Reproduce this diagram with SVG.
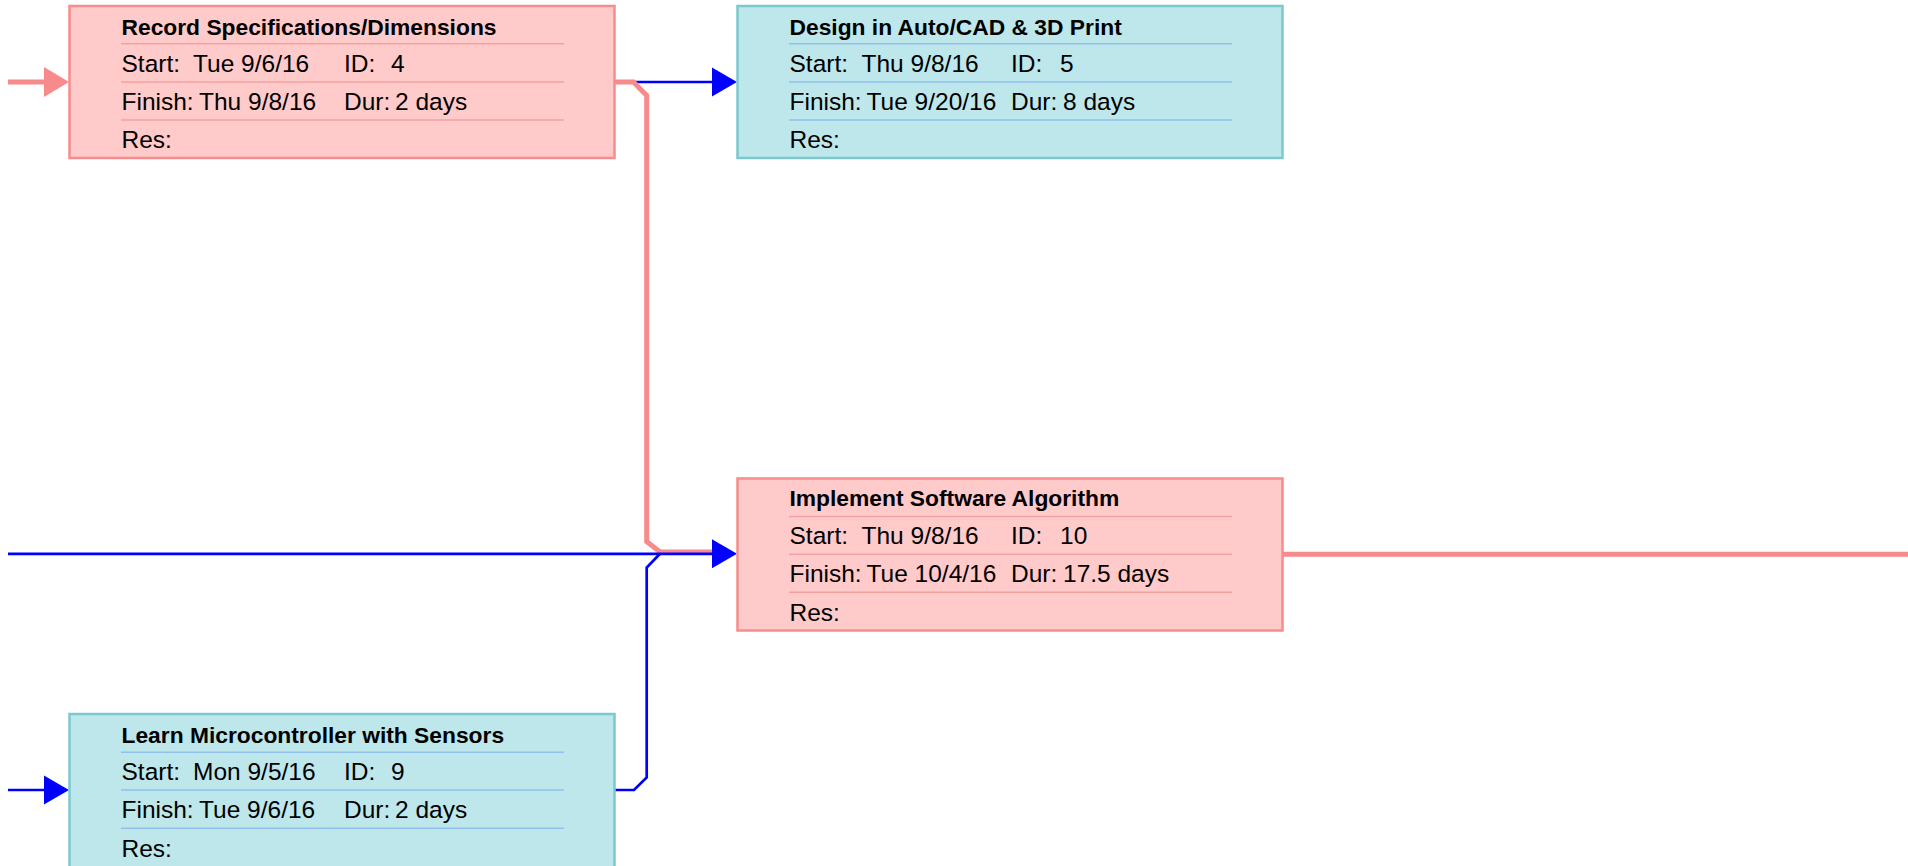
<svg xmlns="http://www.w3.org/2000/svg" width="1908" height="866" viewBox="0 0 1908 866">
<style>
.box-pink{fill:#FFCACA;stroke:#F78C8C;stroke-width:2.5}
.box-cyan{fill:#BDE7EB;stroke:#7CC8CE;stroke-width:2.5}
.sep-pink{stroke:#F5A0A0;stroke-width:1.5}
.sep-cyan{stroke:#92C0EE;stroke-width:1.5}
.title{font-family:"Liberation Sans",Arial,sans-serif;font-weight:bold;font-size:22.8px;fill:#000}
.row{font-family:"Liberation Sans",Arial,sans-serif;font-size:24.5px;fill:#000}
.c-pink{fill:none;stroke:#F78A8A;stroke-width:5}
.c-blue{fill:none;stroke:#0000FF;stroke-width:2.7}
</style>
<defs>
<marker id="ahPink" markerUnits="userSpaceOnUse" markerWidth="26" markerHeight="30" refX="0" refY="15" orient="auto" overflow="visible">
<path d="M0,0 L25,15 L0,30 Z" fill="#F78A8A"/>
</marker>
<marker id="ahBlue" markerUnits="userSpaceOnUse" markerWidth="26" markerHeight="30" refX="0" refY="14.5" orient="auto" overflow="visible">
<path d="M0,0 L25,14.5 L0,29 Z" fill="#0000FF"/>
</marker>
</defs>

<g id="connectors">
<path class="c-pink" d="M8,82 H44" marker-end="url(#ahPink)"/>
<path class="c-blue" d="M8,790 H44" marker-end="url(#ahBlue)"/>
<path class="c-blue" d="M615,82 H712" marker-end="url(#ahBlue)"/>
<path class="c-pink" d="M615,82 H633.5 L646.7,95.5 V541.5 L660,552 H712"/>
<path class="c-blue" d="M8,553.8 H712" marker-end="url(#ahBlue)"/>
<path class="c-blue" d="M615,790 H634 L646.7,777.5 V567.5 L660,553.8"/>
<path class="c-pink" d="M1283,554.3 H1908"/>
</g>

<g id="node4">
<rect class="box-pink" x="69.5" y="6" width="545" height="152"/>
<line class="sep-pink" x1="121" y1="43.7" x2="564" y2="43.7"/>
<line class="sep-pink" x1="121" y1="82" x2="564" y2="82"/>
<line class="sep-pink" x1="121" y1="120" x2="564" y2="120"/>
<text class="title" x="121.5" y="34.7">Record Specifications/Dimensions</text>
<text class="row" y="72"><tspan x="121.5">Start:</tspan> <tspan x="193">Tue 9/6/16</tspan> <tspan x="344">ID:</tspan> <tspan x="391">4</tspan></text>
<text class="row" y="109.5"><tspan x="121.5">Finish:</tspan> <tspan x="199">Thu 9/8/16</tspan> <tspan x="344">Dur:</tspan> <tspan x="395">2 days</tspan></text>
<text class="row" x="121.5" y="148.3">Res:</text>
</g>

<g id="node5">
<rect class="box-cyan" x="737.5" y="6" width="545" height="152"/>
<line class="sep-cyan" x1="789" y1="43.7" x2="1232" y2="43.7"/>
<line class="sep-cyan" x1="789" y1="82" x2="1232" y2="82"/>
<line class="sep-cyan" x1="789" y1="120" x2="1232" y2="120"/>
<text class="title" x="789.5" y="34.7">Design in Auto/CAD &amp; 3D Print</text>
<text class="row" y="72"><tspan x="789.5">Start:</tspan> <tspan x="861.5">Thu 9/8/16</tspan> <tspan x="1011">ID:</tspan> <tspan x="1060">5</tspan></text>
<text class="row" y="109.5"><tspan x="789.5">Finish:</tspan> <tspan x="866.5">Tue 9/20/16</tspan> <tspan x="1011">Dur:</tspan> <tspan x="1063">8 days</tspan></text>
<text class="row" x="789.5" y="148.3">Res:</text>
</g>

<g id="node10">
<rect class="box-pink" x="737.5" y="478.5" width="545" height="152"/>
<line class="sep-pink" x1="789" y1="516.5" x2="1232" y2="516.5"/>
<line class="sep-pink" x1="789" y1="554.3" x2="1232" y2="554.3"/>
<line class="sep-pink" x1="789" y1="592.3" x2="1232" y2="592.3"/>
<text class="title" x="789.5" y="505.5">Implement Software Algorithm</text>
<text class="row" y="544.3"><tspan x="789.5">Start:</tspan> <tspan x="861.5">Thu 9/8/16</tspan> <tspan x="1011">ID:</tspan> <tspan x="1060">10</tspan></text>
<text class="row" y="581.8"><tspan x="789.5">Finish:</tspan> <tspan x="866.5">Tue 10/4/16</tspan> <tspan x="1011">Dur:</tspan> <tspan x="1063">17.5 days</tspan></text>
<text class="row" x="789.5" y="620.5">Res:</text>
</g>

<g id="node9">
<rect class="box-cyan" x="69.5" y="714" width="545" height="154"/>
<line class="sep-cyan" x1="121" y1="752.3" x2="564" y2="752.3"/>
<line class="sep-cyan" x1="121" y1="790" x2="564" y2="790"/>
<line class="sep-cyan" x1="121" y1="828.3" x2="564" y2="828.3"/>
<text class="title" x="121.5" y="743">Learn Microcontroller with Sensors</text>
<text class="row" y="780.3"><tspan x="121.5">Start:</tspan> <tspan x="193">Mon 9/5/16</tspan> <tspan x="344">ID:</tspan> <tspan x="391">9</tspan></text>
<text class="row" y="817.8"><tspan x="121.5">Finish:</tspan> <tspan x="199">Tue 9/6/16</tspan> <tspan x="344">Dur:</tspan> <tspan x="395">2 days</tspan></text>
<text class="row" x="121.5" y="856.5">Res:</text>
</g>
</svg>
